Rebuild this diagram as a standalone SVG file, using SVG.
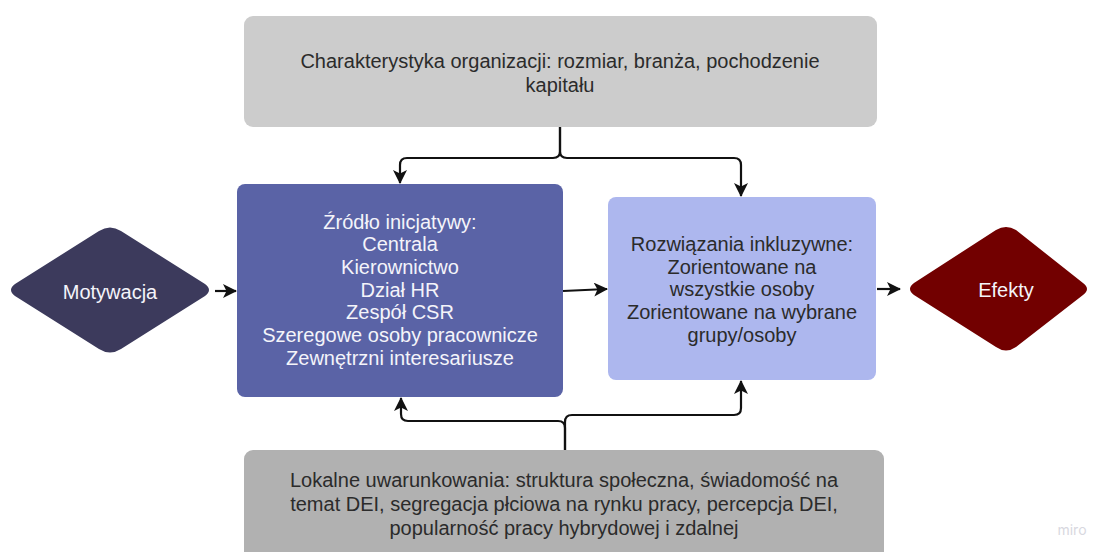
<svg xmlns="http://www.w3.org/2000/svg" width="1097" height="552" viewBox="0 0 1097 552">
  <style>
    .lbl { font-family: "Liberation Sans", Arial, sans-serif; font-size: 20px; text-anchor: middle; }
    .dark { fill: #2b2b2b; }
    .light { fill: #f4f4fa; }
    .conn { fill: none; stroke: #111111; stroke-width: 2.2; stroke-linejoin: round; }
  </style>
  <defs>
    <marker id="arrow" viewBox="0 0 14 14" refX="13" refY="7" markerWidth="14" markerHeight="14" markerUnits="userSpaceOnUse" orient="auto">
      <path d="M0,0 L14,7 L0,14 L3.5,7 Z" fill="#111111"/>
    </marker>
  </defs>
  <rect width="1097" height="552" fill="#ffffff"/>

  <!-- connectors -->
  <g id="connectors">
    <path class="conn" d="M560,127 V151 Q560,158 553,158 H407 Q400,158 400,165 V183" marker-end="url(#arrow)"/>
    <path class="conn" d="M560,127 V151 Q560,158 567,158 H734 Q741,158 741,165 V196" marker-end="url(#arrow)"/>
    <path class="conn" d="M565,450 V428 Q565,421 558,421 H408 Q401,421 401,414 V398" marker-end="url(#arrow)"/>
    <path class="conn" d="M565,450 V422 Q565,415 572,415 H734 Q741,415 741,408 V381" marker-end="url(#arrow)"/>
    <path class="conn" d="M215,291 H236" marker-end="url(#arrow)"/>
    <path class="conn" d="M563,291 L607,289" marker-end="url(#arrow)"/>
    <path class="conn" d="M877,289 H900" marker-end="url(#arrow)"/>
  </g>

  <!-- organisation characteristics -->
  <g id="charakterystyka">
    <rect x="244" y="16" width="633" height="111" rx="9" fill="#cccccc"/>
    <text class="lbl dark" x="560" y="68">Charakterystyka organizacji: rozmiar, branża, pochodzenie</text>
    <text class="lbl dark" x="560" y="92">kapitału</text>
  </g>

  <!-- motivation -->
  <g id="motywacja">
    <path d="M15,284 L99,231 Q110,224 121,231 L205,284 Q213,290 205,296 L121,349 Q110,356 99,349 L15,296 Q7,290 15,284 Z" fill="#3c3a5c"/>
    <text class="lbl light" x="110" y="299">Motywacja</text>
  </g>

  <!-- source of initiative -->
  <g id="zrodlo">
    <rect x="237" y="184" width="326" height="213" rx="8" fill="#5a63a6"/>
    <text class="lbl light" x="400" y="229">Źródło inicjatywy:</text>
    <text class="lbl light" x="400" y="251">Centrala</text>
    <text class="lbl light" x="400" y="274">Kierownictwo</text>
    <text class="lbl light" x="400" y="297">Dział HR</text>
    <text class="lbl light" x="400" y="319">Zespół CSR</text>
    <text class="lbl light" x="400" y="342">Szeregowe osoby pracownicze</text>
    <text class="lbl light" x="400" y="365">Zewnętrzni interesariusze</text>
  </g>

  <!-- inclusive solutions -->
  <g id="rozwiazania">
    <rect x="608" y="197" width="268" height="183" rx="8" fill="#adb7ee"/>
    <text class="lbl dark" x="742" y="251">Rozwiązania inkluzywne:</text>
    <text class="lbl dark" x="742" y="274">Zorientowane na</text>
    <text class="lbl dark" x="742" y="296">wszystkie osoby</text>
    <text class="lbl dark" x="742" y="319">Zorientowane na wybrane</text>
    <text class="lbl dark" x="742" y="342">grupy/osoby</text>
  </g>

  <!-- effects -->
  <g id="efekty">
    <path d="M914,283 L996,230 Q1006,224 1016,230 L1083,283 Q1091,289 1083,295 L1016,347 Q1006,354 996,347 L914,295 Q906,289 914,283 Z" fill="#720000"/>
    <text class="lbl light" x="1006" y="297">Efekty</text>
  </g>

  <!-- local conditions -->
  <g id="uwarunkowania">
    <rect x="244" y="450" width="640" height="112" rx="9" fill="#b1b1b1"/>
    <text class="lbl dark" x="564" y="487">Lokalne uwarunkowania: struktura społeczna, świadomość na</text>
    <text class="lbl dark" x="564" y="511">temat DEI, segregacja płciowa na rynku pracy, percepcja DEI,</text>
    <text class="lbl dark" x="564" y="535">popularność pracy hybrydowej i zdalnej</text>
  </g>

  <text x="1072" y="535" font-family="Inter, 'Liberation Sans', sans-serif" font-size="14" fill="#d8d8e0" text-anchor="middle">miro</text>
</svg>
